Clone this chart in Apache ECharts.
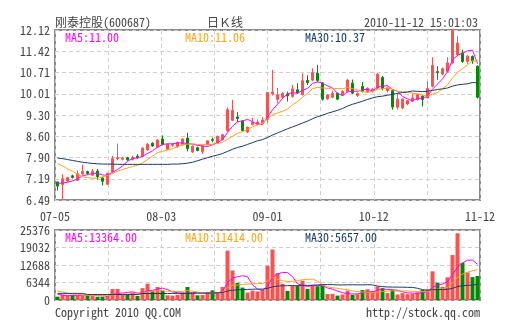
<!DOCTYPE html>
<html><head><meta charset="utf-8">
<script src="https://cdn.jsdelivr.net/npm/echarts@6/dist/echarts.min.js"></script>
<style>html,body{margin:0;padding:0;background:#fff}#c{width:505px;height:330px}</style>
</head><body><div id="c"></div>
<script>
// ---- data ----
const openP  = [7.09,7.00,7.12,7.29,7.14,7.35,7.43,7.31,7.45,7.22,7.01,7.42,7.85,7.84,7.89,7.83,7.94,7.94,8.15,8.37,8.24,8.51,8.16,8.30,8.25,8.32,8.54,8.08,8.22,8.09,8.32,8.49,8.38,8.49,8.78,9.13,9.24,9.10,8.74,8.99,9.00,9.05,9.16,10.00,9.82,9.89,10.00,9.92,10.14,9.98,10.45,10.46,10.69,10.37,9.84,9.89,10.02,9.96,10.08,10.36,9.95,10.25,10.08,10.10,10.20,10.55,10.11,10.11,9.56,9.54,9.67,9.76,9.81,9.93,9.87,10.26,10.74,10.66,10.75,11.03,11.30,11.36,11.08,11.24,10.92];
const closeP = [6.95,7.19,7.23,7.24,7.36,7.44,7.37,7.44,7.26,7.11,7.37,7.86,7.90,7.88,7.82,7.90,7.89,8.21,8.34,8.28,8.48,8.33,8.34,8.34,8.40,8.51,8.19,8.27,8.13,8.28,8.45,8.47,8.60,8.65,9.48,9.46,9.19,8.79,8.90,9.06,9.07,9.14,10.05,10.07,9.98,10.02,9.94,10.17,10.03,10.44,10.38,10.71,10.45,9.83,9.97,10.02,9.83,10.09,10.46,10.03,10.02,10.09,10.19,10.16,10.66,10.18,10.20,9.57,9.83,9.83,9.78,9.87,9.98,9.82,10.18,10.95,10.71,10.84,11.03,12.12,11.69,11.08,11.25,11.10,9.89];
const lowP   = [6.80,6.49,7.08,7.20,7.12,7.33,7.33,7.29,7.16,6.97,6.99,7.40,7.80,7.80,7.79,7.80,7.86,7.92,8.12,8.25,8.22,8.30,8.14,8.25,8.22,8.30,8.10,8.05,8.10,8.01,8.30,8.40,8.36,8.46,8.75,9.10,9.07,8.77,8.70,8.96,8.97,9.02,9.05,9.95,9.70,9.85,9.75,9.88,10.00,9.95,10.30,10.42,10.40,9.78,9.80,9.86,9.80,9.93,10.05,10.00,9.90,10.05,10.05,10.05,10.15,10.12,10.05,9.48,9.48,9.50,9.63,9.73,9.78,9.59,9.85,10.22,10.47,10.62,10.72,11.00,11.25,11.03,11.00,11.00,9.85];
const highP  = [7.10,7.34,7.26,7.33,7.47,7.66,7.46,7.52,7.52,7.25,7.40,7.95,8.36,7.92,7.92,7.95,8.01,8.24,8.38,8.40,8.50,8.63,8.36,8.37,8.42,8.53,8.71,8.30,8.26,8.30,8.47,8.56,8.62,8.68,9.56,9.81,9.40,9.14,8.93,9.21,9.16,9.23,10.05,10.80,10.20,10.06,10.08,10.30,10.36,10.68,10.62,10.85,10.96,10.40,10.00,10.11,10.05,10.12,10.50,10.48,10.05,10.40,10.22,10.20,10.68,10.60,10.25,10.15,10.03,9.86,9.80,10.01,10.01,9.96,10.42,11.22,10.92,10.88,11.22,12.12,11.91,11.47,11.30,11.28,10.95];
const ma5  = [7.04,7.05,7.08,7.12,7.19,7.29,7.33,7.37,7.37,7.32,7.31,7.41,7.50,7.62,7.77,7.87,7.88,7.94,8.03,8.12,8.24,8.33,8.35,8.35,8.38,8.38,8.36,8.34,8.30,8.28,8.26,8.32,8.39,8.49,8.73,8.93,9.08,9.11,9.16,9.08,9.00,8.99,9.24,9.48,9.66,9.85,10.01,10.04,10.03,10.12,10.19,10.35,10.40,10.36,10.27,10.20,10.02,9.95,10.07,10.09,10.09,10.14,10.16,10.10,10.22,10.26,10.28,10.15,10.09,9.92,9.84,9.78,9.86,9.86,9.93,10.16,10.33,10.50,10.74,11.13,11.28,11.35,11.43,11.45,11.00];
const ma10 = [7.70,7.62,7.52,7.44,7.34,7.26,7.23,7.21,7.21,7.26,7.30,7.37,7.44,7.50,7.55,7.60,7.64,7.72,7.83,7.94,8.06,8.10,8.15,8.19,8.25,8.32,8.34,8.35,8.33,8.33,8.32,8.34,8.36,8.40,8.50,8.60,8.70,8.75,8.83,8.91,8.97,9.03,9.18,9.32,9.37,9.43,9.50,9.64,9.75,9.89,10.02,10.18,10.22,10.20,10.19,10.19,10.18,10.18,10.22,10.18,10.14,10.08,10.05,10.09,10.16,10.17,10.21,10.16,10.09,10.07,10.05,10.03,10.01,9.97,9.92,10.00,10.05,10.18,10.30,10.53,10.72,10.84,10.97,11.10,11.07];
const ma30 = [7.88,7.86,7.83,7.80,7.77,7.74,7.72,7.70,7.69,7.68,7.68,7.68,7.67,7.67,7.67,7.67,7.67,7.67,7.67,7.67,7.67,7.67,7.67,7.68,7.68,7.69,7.71,7.74,7.79,7.84,7.89,7.94,7.98,8.03,8.10,8.17,8.23,8.27,8.33,8.39,8.45,8.49,8.56,8.64,8.71,8.78,8.85,8.91,8.97,9.04,9.10,9.18,9.25,9.30,9.36,9.41,9.46,9.52,9.60,9.66,9.71,9.76,9.82,9.87,9.91,9.93,9.96,9.99,10.02,10.05,10.07,10.10,10.09,10.08,10.09,10.12,10.15,10.17,10.20,10.26,10.30,10.32,10.34,10.38,10.37];
const volume  = [1200,1900,1500,1900,1500,1900,1700,1600,1100,1100,1500,4000,4000,2100,2100,2700,1500,4300,5900,3200,4700,3400,1700,1600,1900,2800,4700,2500,1700,1800,2800,3500,2700,4700,17900,10700,6200,4500,2700,3400,3100,3700,12400,18300,9700,5900,3300,5200,5100,7000,4000,5200,5000,5100,2200,2200,1600,2000,3400,1900,2100,3600,3900,3300,4900,4300,2500,3700,2000,2500,2100,2300,2800,3600,3800,10400,6300,4800,8200,16300,24200,13500,10000,8300,8700];
const volMa5  = [2000,1800,1600,1600,1600,1740,1700,1720,1560,1480,1400,1860,2340,2540,2740,2980,2480,2540,3300,3520,3920,4300,3780,2920,2660,2280,2540,2700,2720,2700,2700,2460,2500,3100,6320,7900,8440,8800,8400,5500,3980,3480,5060,8180,9440,10000,9920,8480,5840,5300,4920,5300,5260,5260,4300,3940,3220,2620,2280,2220,2200,2600,2980,2960,3560,4000,3780,3740,3480,3000,2560,2520,2340,2660,2920,4580,5380,5780,6700,9200,11960,13400,14440,14460,12940];
const volMa10 = [3300,2900,2500,2200,2000,1800,1700,1600,1550,1540,1570,1780,2030,2050,2110,2190,2170,2440,2920,3130,3450,3390,3160,3110,3090,3100,3420,3240,2820,2680,2490,2500,2600,2910,4510,5300,5450,5650,5750,5910,5940,5960,6930,8290,7470,6990,6700,6770,7010,7370,7460,7610,6870,5550,4800,4430,4260,3940,3770,3260,3070,2910,2800,2620,2890,3100,3190,3360,3220,3280,3280,3150,3040,3070,2960,3570,3950,4060,4680,6060,8270,9390,10110,10580,11060];
const volMa30 = [2400,2400,2400,2400,2400,2400,2000,2000,2000,2000,2000,2000,2000,2000,2000,2000,2000,2350,2350,2350,2350,2350,2350,2400,2400,2400,2400,2450,2450,2450,2500,2560,2600,2690,3240,3530,3680,3780,3830,3910,3960,3950,4230,4770,5020,5130,5190,5220,5190,5320,5300,5360,5470,5580,5590,5570,5470,5450,5510,5510,5490,5490,5530,5490,5050,4840,4720,4690,4670,4640,4600,4560,4240,3750,3550,3700,3800,3790,3890,4200,4870,5150,5320,5420,5640];
const priceTicks  = ['6.49','7.19','7.90','8.60','9.30','10.01','10.71','11.42','12.12'];
const volumeTicks = ['0','6344','12688','19032','25376'];
const dateTicks   = ['07-05','08-03','09-01','10-12','11-12'];
const priceLegend  = ['MA5:11.00','MA10:11.06','MA30:10.37'];
const volumeLegend = ['MA5:13364.00','MA10:11414.00','MA30:5657.00'];

// ---- styles ----
const UP = '#ff5050', DOWN = '#008a00';
const C5 = '#ff00ff', C10 = '#ffa31a', C30 = '#163a6b';
const FONT = '"Noto Sans Mono CJK SC","Noto Sans CJK SC","DejaVu Sans Mono",monospace';
const GRID_LINE = {show:true, lineStyle:{color:'#cfcfcf', type:[4,3], width:1}};

const chart = echarts.init(document.getElementById('c'), null, {renderer:'canvas'});
const hiddenCat = (g) => ({type:'category', gridIndex:g, position:'top', boundaryGap:true,
  axisLine:{show:false}, axisTick:{show:false}, axisLabel:{show:false}, splitLine:{show:false}});
const gridX = (g, labels) => ({type:'value', gridIndex:g, position:'bottom', min:0, max:8, interval:1,
  axisLine:{show:false}, axisTick:{show:false}, splitLine:GRID_LINE,
  axisLabel: labels ? {show:true, margin:10, color:'#444', fontFamily:FONT, fontSize:12,
    showMinLabel:true, showMaxLabel:true,
    formatter:(v)=> (v % 2 === 0 ? dateTicks[v/2] : '')} : {show:false}});
const lineS = (x, y, data, color) => ({type:'line', xAxisIndex:x, yAxisIndex:y, data, showSymbol:false,
  symbol:'none', smooth:false, lineStyle:{color, width:1}, itemStyle:{color}, z:5, silent:true});

const txt = (x, y, text, color, align) => ({type:'text', x, y, silent:true, z:100,
  style:{text, fill:color, font:'12px ' + FONT, textAlign:align||'left', textVerticalAlign:'middle',
         align:align||'left', verticalAlign:'middle'}});

chart.setOption({
  animation:false,
  backgroundColor:'#fff',
  grid:[
    {left:55, top:30, width:425, height:170, show:true, borderColor:'#8a8a8a', borderWidth:2, backgroundColor:'transparent'},
    {left:55, top:230, width:425, height:70, show:true, borderColor:'#8a8a8a', borderWidth:2, backgroundColor:'transparent'}
  ],
  xAxis:[hiddenCat(0), gridX(0, true), hiddenCat(1), gridX(1, false)],
  yAxis:[
    {type:'value', gridIndex:0, min:6.49, max:12.12, interval:0.70375, scale:true,
     axisLine:{show:false}, axisTick:{show:false}, splitLine:GRID_LINE,
     axisLabel:{color:'#444', margin:5, fontFamily:FONT, fontSize:12, showMinLabel:true, showMaxLabel:true,
       formatter:(v, i)=> priceTicks[i] !== undefined ? priceTicks[i] : v.toFixed(2)}},
    {type:'value', gridIndex:1, min:0, max:25376, interval:6344,
     axisLine:{show:false}, axisTick:{show:false}, splitLine:GRID_LINE,
     axisLabel:{color:'#444', margin:5, fontFamily:FONT, fontSize:12, showMinLabel:true, showMaxLabel:true,
       formatter:(v, i)=> volumeTicks[i] !== undefined ? volumeTicks[i] : String(v)}}
  ],
  series:[
    {type:'candlestick', xAxisIndex:0, yAxisIndex:0, barWidth:'66%',
     data: openP.map((o,i)=>[o, closeP[i], lowP[i], highP[i]]),
     itemStyle:{color:UP, color0:DOWN, borderColor:UP, borderColor0:DOWN, borderWidth:1}, z:3},
    lineS(0,0,ma5,C5), lineS(0,0,ma10,C10), lineS(0,0,ma30,C30),
    {type:'bar', xAxisIndex:2, yAxisIndex:1, barWidth:'80%',
     data: volume.map((v,i)=>({value:v, itemStyle:{color: closeP[i] >= openP[i] ? UP : DOWN}})), z:3},
    lineS(2,1,volMa5,C5), lineS(2,1,volMa10,C10), lineS(2,1,volMa30,C30)
  ],
  graphic:[
    txt(55, 22, '刚泰控股(600687)', '#444'),
    txt(225, 22, '日Ｋ线', '#444', 'center'),
    txt(478, 22, '2010-11-12 15:01:03', '#444', 'right'),
    txt(65, 37, priceLegend[0], C5), txt(185, 37, priceLegend[1], C10), txt(305, 37, priceLegend[2], C30),
    txt(65, 237, volumeLegend[0], C5), txt(185, 237, volumeLegend[1], C10), txt(305, 237, volumeLegend[2], C30),
    txt(55, 312, 'Copyright 2010 QQ.COM', '#444'),
    txt(480, 312, 'http://stock.qq.com', '#444', 'right')
  ]
});
</script></body></html>
